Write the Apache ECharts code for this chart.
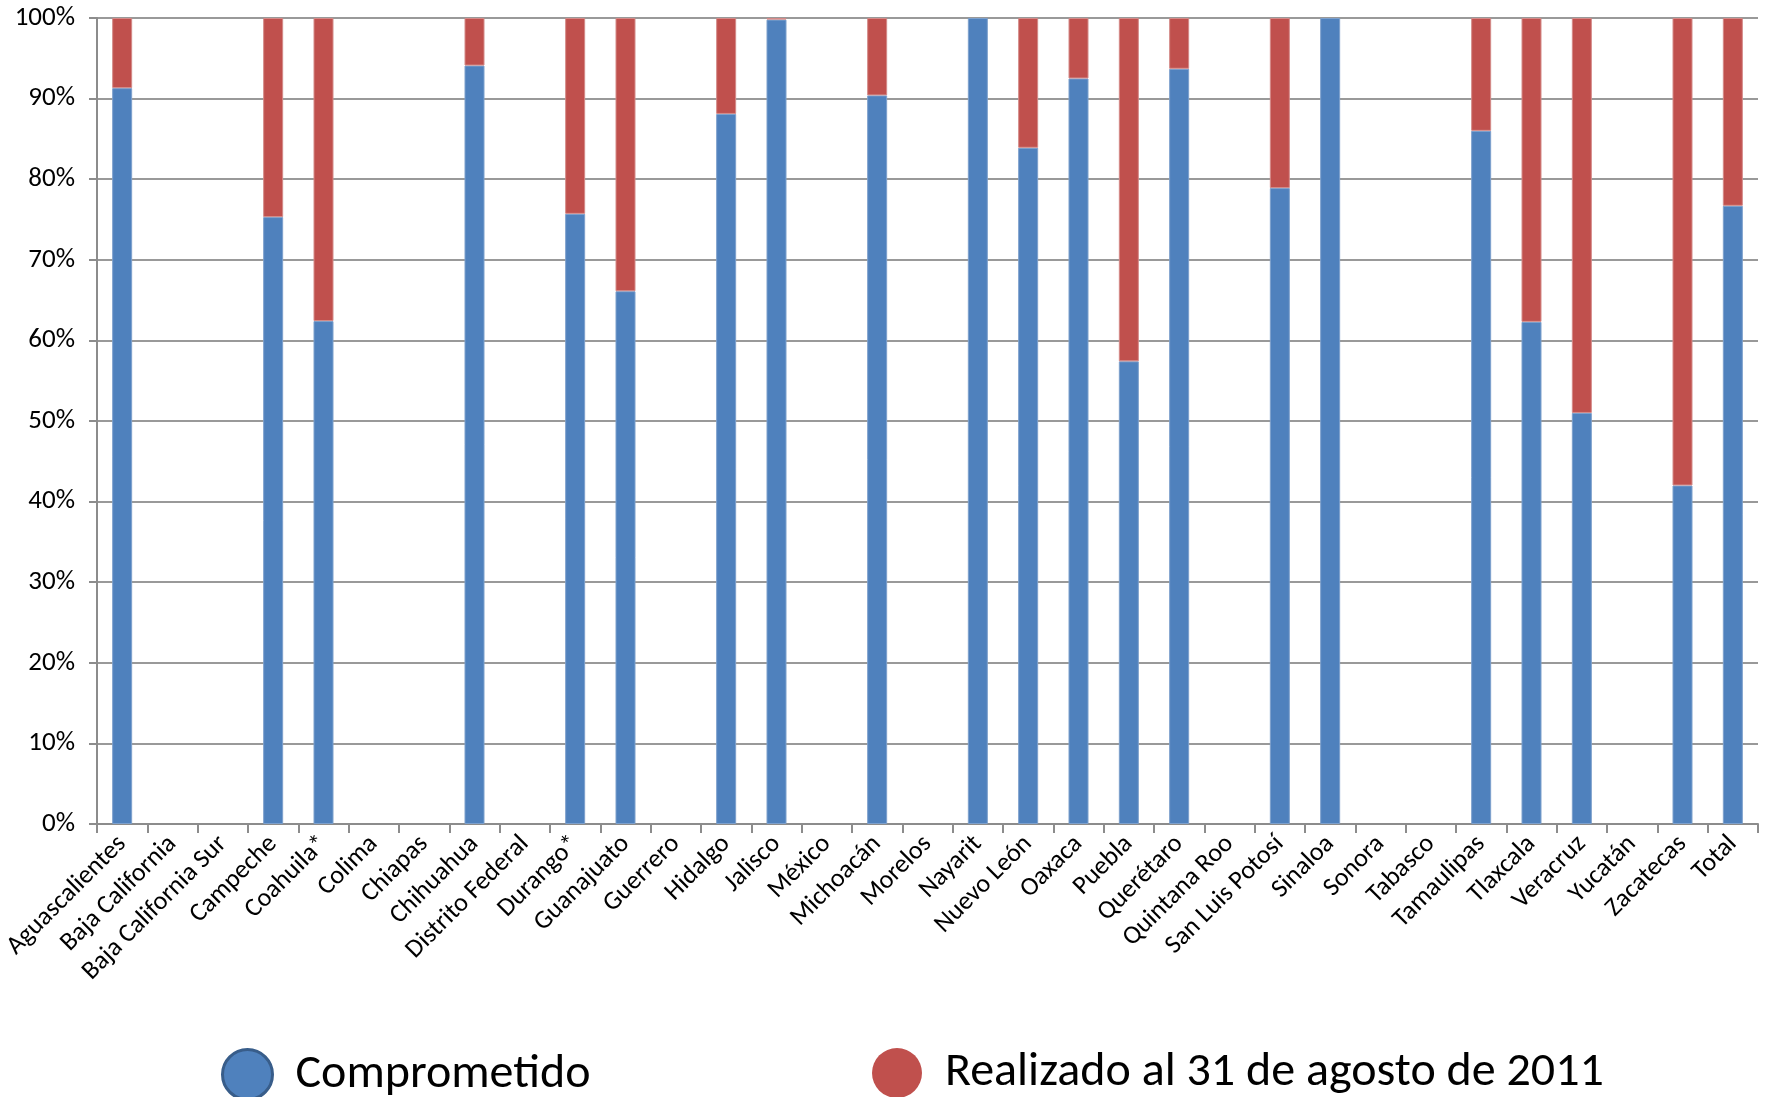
<!DOCTYPE html>
<html><head><meta charset="utf-8">
<script src="https://cdn.jsdelivr.net/npm/echarts@6/dist/echarts.min.js"></script>
<style>html,body{margin:0;padding:0;background:#fff}#c{width:1765px;height:1097px}</style>
</head><body><div id="c"></div>
<script>
const categories = ["Aguascalientes","Baja California","Baja California Sur","Campeche","Coahuila*","Colima","Chiapas","Chihuahua","Distrito Federal","Durango*","Guanajuato","Guerrero","Hidalgo","Jalisco","México","Michoacán","Morelos","Nayarit","Nuevo León","Oaxaca","Puebla","Querétaro","Quintana Roo","San Luis Potosí","Sinaloa","Sonora","Tabasco","Tamaulipas","Tlaxcala","Veracruz","Yucatán","Zacatecas","Total"];
const comprometido = [91.3,null,null,75.3,62.4,null,null,94.1,null,75.7,66.1,null,88.1,99.8,null,90.4,null,100,83.9,92.5,57.4,93.7,null,78.9,100,null,null,86.0,62.3,51.0,null,42.0,76.7];
const realizado = [8.7,null,null,24.7,37.6,null,null,5.9,null,24.3,33.9,null,11.9,0.2,null,9.6,null,null,16.1,7.5,42.6,6.3,null,21.1,null,null,null,14.0,37.7,49.0,null,58.0,23.3];
const yTicks = [0,10,20,30,40,50,60,70,80,90,100];
const seriesNames = ["Comprometido","Realizado al 31 de agosto de 2011"];

const font = "Carlito, Lato, sans-serif";
const chart = echarts.init(document.getElementById('c'));
chart.setOption({
  animation:false,
  textStyle:{fontFamily:font},
  grid:{left:97,right:7,top:18,bottom:273,containLabel:false},
  legend:[
    {data:[{name:seriesNames[0],itemStyle:{color:'#4F81BD',borderColor:'#385D8A',borderWidth:3}}],left:216,top:1043,icon:'circle',itemWidth:50,itemHeight:50,
     textStyle:{fontSize:48,color:'#000',fontFamily:font,padding:[0,0,0,18]}},
    {data:[{name:seriesNames[1],itemStyle:{color:'#C0504D',borderWidth:0}}],left:867,top:1043,icon:'circle',itemWidth:50,itemHeight:50,
     textStyle:{fontSize:48,color:'#000',fontFamily:font,padding:[0,0,0,18]}}
  ],
  xAxis:{type:'category',data:categories,boundaryGap:true,
    axisLine:{lineStyle:{color:'#8c8c8c',width:2}},
    axisTick:{show:true,length:9,lineStyle:{color:'#8c8c8c',width:2}},
    axisLabel:{rotate:45,fontSize:26,color:'#000',margin:16,interval:0,fontFamily:font}},
  yAxis:{type:'value',min:0,max:100,interval:10,
    axisLine:{show:true,lineStyle:{color:'#8c8c8c',width:2}},
    axisTick:{show:true,length:8,lineStyle:{color:'#8c8c8c',width:2}},
    splitLine:{lineStyle:{color:'#999',width:2}},
    axisLabel:{fontSize:27,color:'#000',margin:22,fontFamily:font,formatter:v=>yTicks.includes(v)?v+'%':''}},
  series:[
    {name:seriesNames[0],type:'bar',stack:'a',data:comprometido,barWidth:20,
     itemStyle:{color:'#4F81BD',borderColor:'#7DA0CC',borderWidth:1}},
    {name:seriesNames[1],type:'bar',stack:'a',data:realizado,barWidth:20,
     itemStyle:{color:'#C0504D',borderColor:'#D48A88',borderWidth:1}}
  ]
});
</script></body></html>
